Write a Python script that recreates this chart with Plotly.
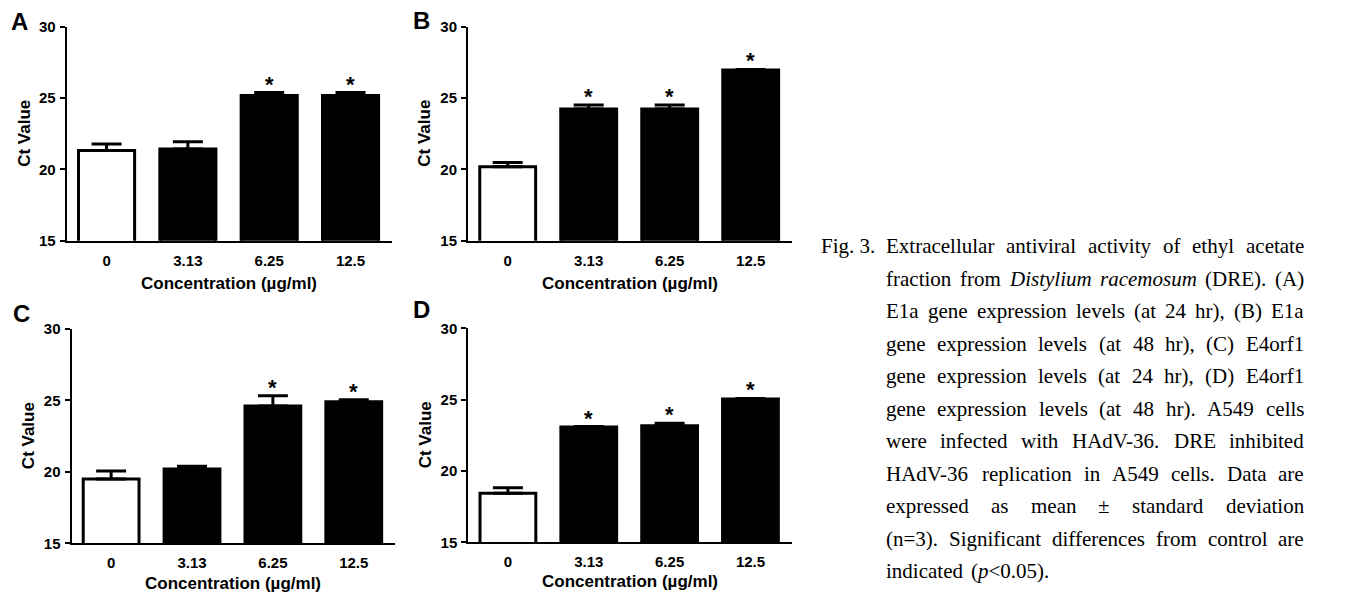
import plotly.graph_objects as go

# ---------------- data ----------------
categories = ["0", "3.13", "6.25", "12.5"]
bar_colors = ["white", "black", "black", "black"]
y_ticks = [15, 20, 25, 30]

a_values = [21.34, 21.44, 25.2, 25.2]
a_errors = [0.45, 0.5, 0.2, 0.2]
a_sig = [False, False, True, True]

b_values = [20.19, 24.23, 24.23, 26.96]
b_errors = [0.3, 0.28, 0.28, 0.04]
b_sig = [False, True, True, True]

c_values = [19.5, 20.2, 24.61, 24.91]
c_errors = [0.56, 0.19, 0.72, 0.14]
c_sig = [False, False, True, True]

d_values = [18.43, 23.08, 23.17, 25.04]
d_errors = [0.4, 0.03, 0.17, 0.04]
d_sig = [False, True, True, True]

x_title = "Concentration (µg/ml)"
y_title = "Ct Value"

caption_label = "Fig. 3."
caption_lines = [
    "Extracellular antiviral activity of ethyl acetate",
    "fraction from _Distylium_ _racemosum_ (DRE). (A)",
    "E1a gene expression levels (at 24 hr), (B) E1a",
    "gene expression levels (at 48 hr), (C) E4orf1",
    "gene expression levels (at 24 hr), (D) E4orf1",
    "gene expression levels (at 48 hr). A549 cells",
    "were infected with HAdV-36. DRE inhibited",
    "HAdV-36 replication in A549 cells. Data are",
    "expressed as mean ± standard deviation",
    "(n=3). Significant differences from control are",
    "indicated  (_p_<0.05).",
]

# ---------------- layout helpers ----------------
# the page body has an 8px margin, so the figure is drawn 8px in from the
# window corner; coordinates below are window pixels.
OFF = 8
WIN_W, WIN_H = 1365, 602
W, H = WIN_W - OFF, WIN_H - OFF
SANS = "Liberation Sans, Arial, sans-serif"
SERIF = "Liberation Serif, Times New Roman, serif"


def fx(px):
    return (px - OFF) / W


def fy(py):
    return 1 - (py - OFF) / H


panels = [
    dict(name="A", vals=a_values, errs=a_errors, sig=a_sig,
         xd=(66.7, 392), yd=(27, 240.7), letter=(10, 30), ytx=25, xty=283),
    dict(name="B", vals=b_values, errs=b_errors, sig=b_sig,
         xd=(468, 792), yd=(26.7, 240.7), letter=(412, 29), ytx=425, xty=283),
    dict(name="C", vals=c_values, errs=c_errors, sig=c_sig,
         xd=(71.5, 395), yd=(329, 543.3), letter=(12, 322), ytx=28, xty=583),
    dict(name="D", vals=d_values, errs=d_errors, sig=d_sig,
         xd=(468.3, 791.7), yd=(328.3, 542.3), letter=(412, 318), ytx=425, xty=581),
]

fig = go.Figure()
annotations = []
layout_axes = {}

for i, p in enumerate(panels):
    n = "" if i == 0 else str(i + 1)
    xa, ya = "x" + n, "y" + n
    fig.add_trace(go.Bar(
        x=categories, y=p["vals"], xaxis=xa, yaxis=ya,
        width=0.69,
        marker=dict(color=bar_colors, line=dict(color="black", width=3)),
        error_y=dict(type="data", array=p["errs"], arrayminus=[0] * 4,
                     symmetric=False, color="black", thickness=3, width=15),
        showlegend=False, hoverinfo="x+y",
    ))
    layout_axes["xaxis" + n] = dict(
        domain=[fx(p["xd"][0]), fx(p["xd"][1])], anchor=ya, type="category",
        range=[-0.49, 3.51], showline=True, linecolor="black", linewidth=2,
        ticks="", showgrid=False, zeroline=False, fixedrange=True,
        automargin=False,
        tickfont=dict(family=SANS, size=15, color="black", weight="bold"),
        ticklabelstandoff=5,
    )
    layout_axes["yaxis" + n] = dict(
        domain=[fy(p["yd"][1]), fy(p["yd"][0])], anchor=xa,
        range=[15, 30], tickvals=y_ticks, ticks="outside", ticklen=5,
        tickwidth=2, tickcolor="black", showline=True, linecolor="black",
        linewidth=2, showgrid=False, zeroline=False, fixedrange=True,
        automargin=False,
        tickfont=dict(family=SANS, size=15, color="black", weight="bold"),
        ticklabelstandoff=1,
    )
    # significance stars (x given as category index)
    for j, (v, e, s) in enumerate(zip(p["vals"], p["errs"], p["sig"])):
        if s:
            annotations.append(dict(
                x=j, y=v + e, xref=xa, yref=ya, text="*", showarrow=False,
                yanchor="bottom", yshift=-5, borderpad=0,
                font=dict(family=SANS, size=22, color="black", weight="bold"),
            ))
    # panel letter
    lx, lb = p["letter"]
    annotations.append(dict(
        x=fx(lx), y=fy(lb - 0.35 * 24), xref="paper", yref="paper",
        text="<b>%s</b>" % p["name"], showarrow=False, xanchor="left",
        yanchor="middle", borderpad=0,
        font=dict(family=SANS, size=24, color="black"),
    ))
    # axis titles
    annotations.append(dict(
        x=fx((p["xd"][0] + p["xd"][1]) / 2), y=fy(p["xty"]), xref="paper",
        yref="paper", text="<b>%s</b>" % x_title, showarrow=False,
        xanchor="center", yanchor="middle", borderpad=0,
        font=dict(family=SANS, size=17, color="black"),
    ))
    annotations.append(dict(
        x=fx(p["ytx"]), y=fy((p["yd"][0] + p["yd"][1]) / 2), xref="paper",
        yref="paper", text="<b>%s</b>" % y_title, showarrow=False,
        textangle=-90, xanchor="center", yanchor="middle", borderpad=0,
        font=dict(family=SANS, size=17, color="black"),
    ))

# ---------------- caption (justified, word by word) ----------------
REG = {" ": 250, "(": 333, ")": 333, ",": 250, "-": 333, ".": 250, "/": 278,
       "<": 564, "=": 564, "±": 564,
       "A": 722, "B": 667, "C": 667, "D": 722, "E": 611, "F": 556, "G": 722,
       "H": 722, "I": 333, "R": 667, "S": 556, "V": 722,
       "a": 444, "b": 500, "c": 444, "d": 500, "e": 444, "f": 333, "g": 500,
       "h": 500, "i": 278, "j": 278, "k": 500, "l": 278, "m": 778, "n": 500,
       "o": 500, "p": 500, "q": 500, "r": 333, "s": 389, "t": 278, "u": 500,
       "v": 500, "w": 722, "x": 500, "y": 500, "z": 444}
ITA = {"D": 722, "a": 500, "c": 444, "e": 444, "i": 278, "l": 278, "m": 722,
       "o": 500, "p": 500, "r": 389, "s": 389, "t": 278, "u": 500, "y": 444}

CFS = 21
LEFT, RIGHT = 885, 1303
BASE0, STEP = 253.3, 32.5


def parse_word(w):
    segs = w.split("_")
    out, width = "", 0.0
    for k, s in enumerate(segs):
        if not s:
            continue
        ital = k % 2 == 1
        table = ITA if ital else REG
        width += sum(table.get(ch, 500) for ch in s) / 1000 * CFS
        esc = s.replace("&", "&amp;").replace("<", "&lt;")
        out += ("<i>%s</i>" % esc) if ital else esc
    return out, width


def caption_word(x, base, text):
    annotations.append(dict(
        x=fx(x), y=fy(base - 0.34 * CFS), xref="paper", yref="paper",
        text=text, showarrow=False, xanchor="left", yanchor="middle",
        borderpad=0, font=dict(family=SERIF, size=CFS, color="black"),
    ))


caption_word(820.5, BASE0, caption_label)
for li, line in enumerate(caption_lines):
    base = BASE0 + li * STEP
    words = [parse_word(w) for w in line.split()]
    total = sum(w for _, w in words)
    last = li == len(caption_lines) - 1
    if last or len(words) < 2:
        gap = 0.25 * CFS * 1.6 if last else 0
    else:
        gap = (RIGHT - LEFT - total) / (len(words) - 1)
    x = LEFT
    for t, w in words:
        caption_word(x, base, t)
        x += w + gap

fig.update_layout(
    width=W, height=H, margin=dict(l=0, r=0, t=0, b=0, autoexpand=False),
    paper_bgcolor="white", plot_bgcolor="white", showlegend=False,
    annotations=annotations, **layout_axes,
)

fig.write_html("out.html")
